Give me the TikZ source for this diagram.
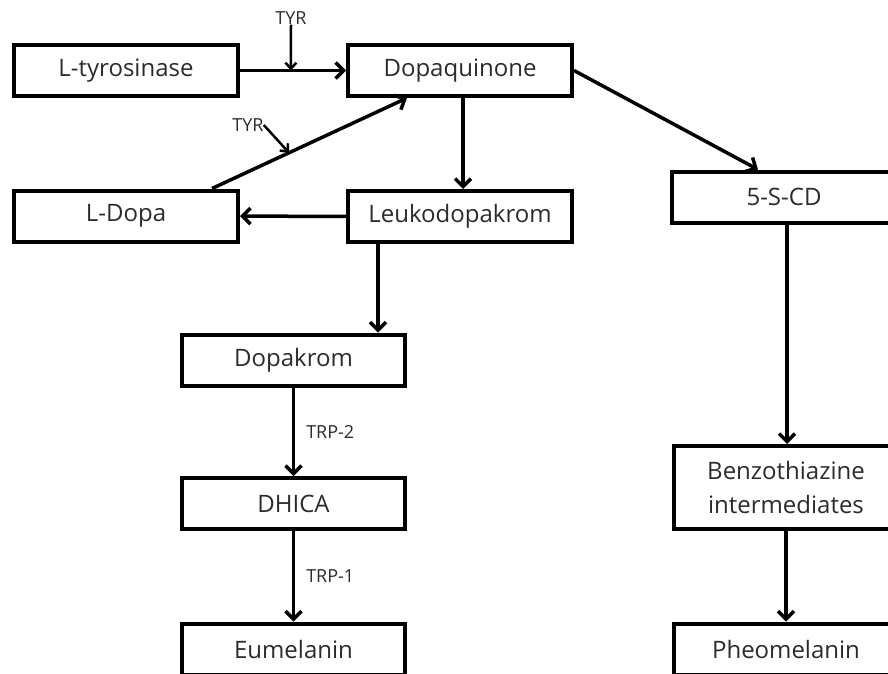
\documentclass[tikz,border=0pt]{standalone}
\usepackage{fontspec}
\setmainfont{Open Sans}
\usetikzlibrary{arrows.meta,calc}
\definecolor{txt}{HTML}{2B2B2B}
\begin{document}
\begin{tikzpicture}[x=1pt,y=-1pt,
  box/.style={draw=black, line width=4pt, minimum width=224pt, minimum height=51pt, inner sep=0pt,
    font=\fontsize{24}{34}\selectfont, text=txt, align=center},
  conn/.style={line width=3.5pt, -{Straight Barb[length=8pt,width=16pt]}},
  enz/.style={font=\fontsize{18}{20}\selectfont, text=txt, inner sep=0pt},
  enzarrow/.style={line width=2.5pt, -{Straight Barb[length=6pt,width=11pt]}}]
\useasboundingbox (0,0) rectangle (888,673);
\clip (0,0) rectangle (888,673);
% boxes
\node[box] (tyr) at (126,70.5) {L-tyrosinase};
\node[box] (dq) at (460,70.5) {Dopaquinone};
\node[box] (ldopa) at (126,216) {L-Dopa};
\node[box] (leuko) at (460,216.5) {Leukodopakrom};
\node[box] (scd) at (784,197) {5-S-CD};
\node[box, minimum height=83pt] (benz) at (786,487.5) {Benzothiazine\\intermediates};
\node[box] (pheo) at (786,649) {Pheomelanin};
\node[box, minimum width=223pt] (dk) at (293.5,360) {Dopakrom};
\node[box, minimum width=223pt] (dhica) at (293.5,503.5) {DHICA};
\node[box, minimum width=223pt] (eum) at (293.5,649) {Eumelanin};
% enzyme labels
\node[enz] (tyrA) at (291,18) {TYR};
\node[enz] (tyrB) at (248,125) {TYR};
% connectors
\draw[conn] (tyr) -- coordinate[pos=0.48] (t1) (dq);
\draw[enzarrow] (tyrA.south) -- (t1);
\draw[conn] (leuko) -- (ldopa);
\draw[conn] ([xshift=86pt]ldopa.north) -- coordinate[pos=0.395] (t2) ([xshift=-53pt]dq.south);
\draw[enzarrow] (tyrB.east) -- (t2);
\draw[conn] ([xshift=3pt]dq.south) -- ([xshift=3pt]leuko.north);
\draw[conn] (dq.east) -- ([xshift=-26pt]scd.north);
\draw[conn] ([xshift=-82pt]leuko.south) -- ([xshift=-82pt]leuko.south |- dk.north);
\draw[conn] (dk) -- node[enz, right=11pt] {TRP-2} (dhica);
\draw[conn] (dhica) -- node[enz, right=11pt] {TRP-1} (eum);
\draw[conn] ([xshift=3pt]scd.south) -- ([xshift=1pt]benz.north);
\draw[conn] (benz) -- (pheo);
\end{tikzpicture}
\end{document}
